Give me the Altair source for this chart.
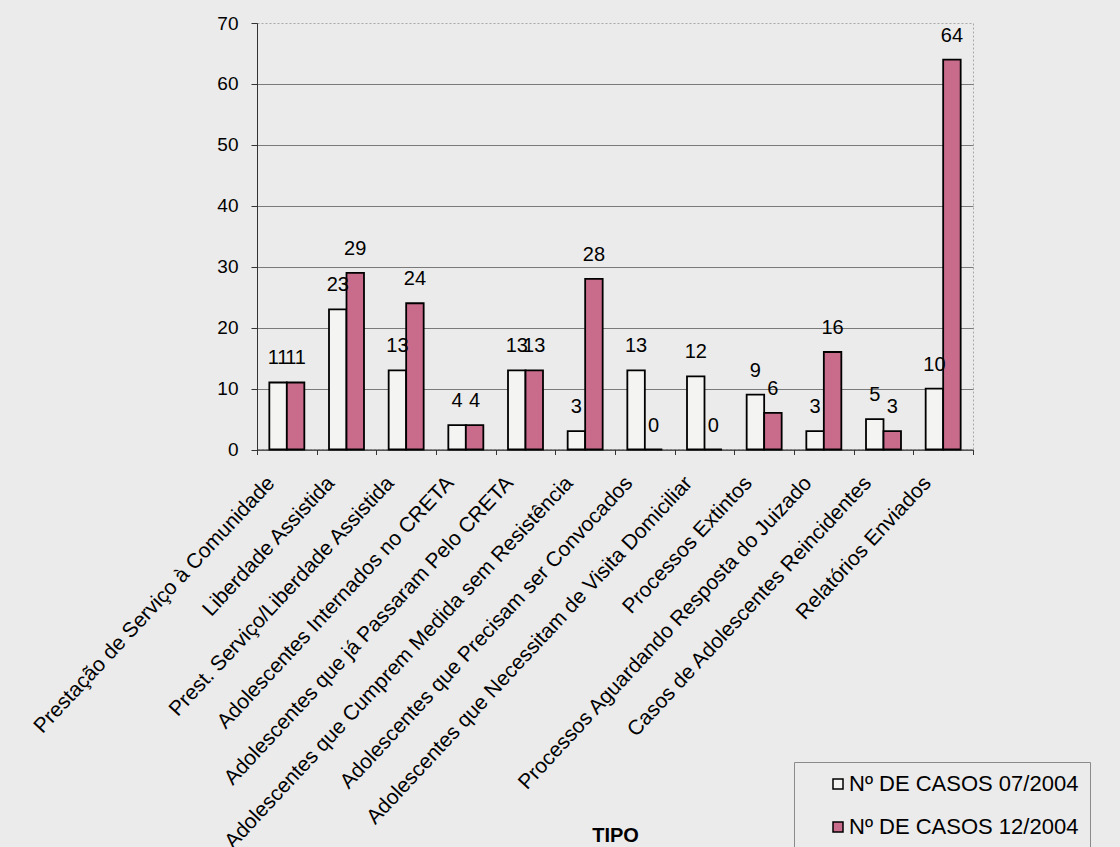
import altair as alt
import pandas as pd

# Categories (in display order) and the two series of case counts
categorias = [
    "Prestação de Serviço à Comunidade",
    "Liberdade Assistida",
    "Prest. Serviço/Liberdade Assistida",
    "Adolescentes Internados no CRETA",
    "Adolescentes que já Passaram Pelo CRETA",
    "Adolescentes que Cumprem Medida sem Resistência",
    "Adolescentes que Precisam ser Convocados",
    "Adolescentes que Necessitam de Visita Domiciliar",
    "Processos Extintos",
    "Processos Aguardando Resposta do Juizado",
    "Casos de Adolescentes Reincidentes",
    "Relatórios Enviados",
]
casos_07_2004 = [11, 23, 13, 4, 13, 3, 13, 12, 9, 3, 5, 10]
casos_12_2004 = [11, 29, 24, 4, 13, 28, 0, 0, 6, 16, 3, 64]
series = ["Nº DE CASOS 07/2004", "Nº DE CASOS 12/2004"]
cores = ["#F4F4F2", "#C96C8C"]
y_ticks = [0, 10, 20, 30, 40, 50, 60, 70]

rows = []
for cat, a, b in zip(categorias, casos_07_2004, casos_12_2004):
    rows.append({"tipo": cat, "serie": series[0], "casos": a})
    rows.append({"tipo": cat, "serie": series[1], "casos": b})
df = pd.DataFrame(rows)

FONT = "Liberation Sans"
BG = "#EBEBEB"

x_enc = alt.X(
    "tipo:N",
    sort=categorias,
    scale=alt.Scale(paddingInner=0, paddingOuter=0),
    axis=alt.Axis(
        title="TIPO",
        titleFont=FONT,
        titleFontSize=20,
        titleFontWeight="bold",
        titleColor="black",
        titleY=386,
        titleBaseline="middle",
        labelAngle=-47,
        labelAlign="right",
        labelBaseline="middle",
        labelFont=FONT,
        labelFontSize=21,
        labelColor="black",
        labelPadding=25,
        labelOffset=-16,
        labelOverlap=False,
        labelLimit=0,
        labelBound=False,
        tickBand="extent",
        tickSize=5,
        tickColor="#333333",
        domainColor="#333333",
        grid=False,
    ),
)
xoff_enc = alt.XOffset(
    "serie:N", sort=series, scale=alt.Scale(paddingInner=0, paddingOuter=0.705)
)
y_enc = alt.Y(
    "casos:Q",
    scale=alt.Scale(domain=[0, 70], nice=False),
    axis=alt.Axis(
        title=None,
        values=y_ticks,
        tickSize=6,
        tickColor="#333333",
        domainColor="#333333",
        labelPadding=13,
        labelFont=FONT,
        labelFontSize=19,
        labelColor="black",
        gridColor="#7a7a7a",
        gridOpacity={"condition": {"test": "datum.value == 70", "value": 0}, "value": 1},
    ),
)

base = alt.Chart(df).encode(x=x_enc, xOffset=xoff_enc, y=y_enc)

bars = base.mark_bar(stroke="black", strokeWidth=1.8).encode(
    color=alt.Color(
        "serie:N",
        sort=series,
        scale=alt.Scale(domain=series, range=cores),
        legend=alt.Legend(
            title=None,
            orient="none",
            legendX=537,
            legendY=739,
            direction="vertical",
            padding=11,
            symbolOffset=22,
            symbolType="square",
            symbolSize=100,
            symbolStrokeColor="black",
            symbolStrokeWidth=1.5,
            labelFont=FONT,
            labelFontSize=22,
            labelColor="black",
            labelOffset=0,
            labelLimit=0,
            rowPadding=21,
            strokeColor="#8a8a8a",
            fillColor=BG,
        ),
    )
)

labels = base.mark_text(
    dy=-18, baseline="alphabetic", font=FONT, fontSize=20, color="black"
).encode(text="casos:Q")

chart = (
    alt.layer(bars, labels)
    .properties(
        width=716,
        height=426.5,
        autosize=alt.AutoSizeParams(type="none"),
        padding={"left": 257, "top": 23, "right": 147, "bottom": 397.5},
        background=BG,
    )
    .configure_view(stroke="#a8a8a8", strokeDash=[2, 2], strokeWidth=1)
)

chart.save("out.html", embed_options={"renderer": "svg", "actions": False})
